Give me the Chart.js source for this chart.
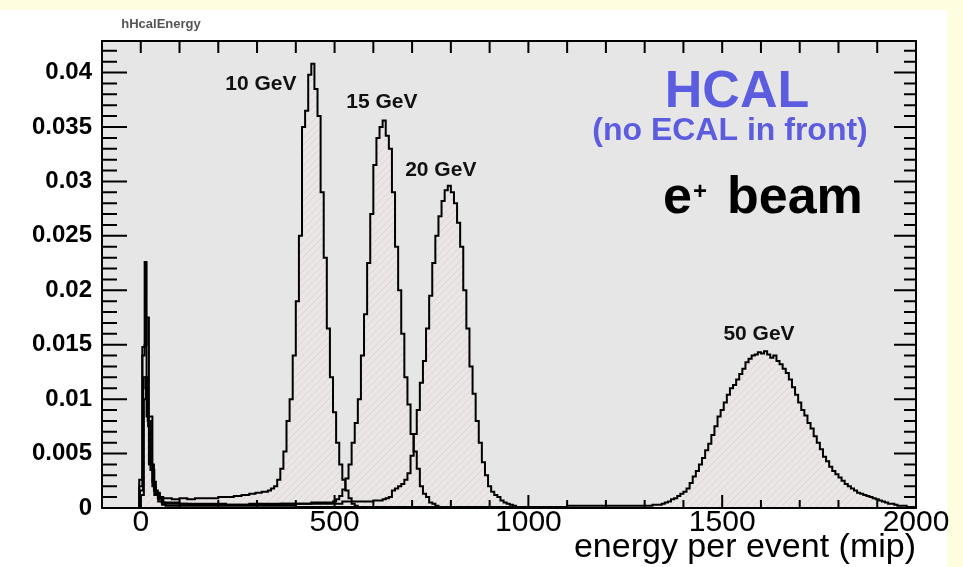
<!DOCTYPE html>
<html><head><meta charset="utf-8">
<script src="https://cdn.jsdelivr.net/npm/chart.js@4/dist/chart.umd.min.js"></script>
<style>
html,body{margin:0;padding:0;background:#fffde0;overflow:hidden;}
#white{position:absolute;left:0;top:10px;width:947px;height:557px;background:#ffffff;}
#c{position:absolute;left:0;top:0;}
</style></head><body>
<div id="white"></div>
<canvas id="c" width="963" height="567"></canvas>
<script>
// ---------------- data ----------------
const seriesNames = ['10 GeV', '15 GeV', '20 GeV', '50 GeV'];

// bin low edges (mip) and contents; last bin ends at hiXX
const lo10 = [-4,4,10,15,21,30,39,49,58,80,100,120,140,160,180,200,220,240,260,280,296,312,328,
  336,344,352,360,368,376,384,392,400,408,416,424,432,440,448,456,464,472,480,488,496,504,512,520,528,536,544,552,560];
const val10 = [0.0026,0.0148,0.0226,0.0084,0.0040,0.0020,0.0013,0.0010,0.0009,0.0008,0.0009,0.0008,0.0009,0.0009,0.0009,0.0010,0.0010,0.0011,0.0012,0.0013,0.0014,0.0015,0.0016,
  0.0018,0.0020,0.0026,0.0036,0.0052,0.0080,0.0100,0.0140,0.0190,0.0250,0.0350,0.0365,0.0398,0.0408,0.0385,0.0360,0.0290,0.0230,0.0165,0.0120,0.0088,0.0060,0.0040,0.0026,0.0016,0.0009,0.0004,0.0002,0.0001];
const hi10 = 568;

const lo15 = [-4,4,10,15,21,30,39,49,58,100,160,220,280,340,400,440,480,496,504,512,520,
  528,536,544,552,560,568,576,584,592,600,608,616,624,632,640,648,656,664,672,680,688,696,704,712,720,728,736,744,752,760,768];
const val15 = [0.0020,0.0140,0.0150,0.0175,0.0084,0.0024,0.0014,0.0008,0.0005,0.0004,0.0004,0.0003,0.0004,0.0004,0.0004,0.0005,0.0005,0.0006,0.0008,0.0011,0.0017,
  0.0027,0.0040,0.0060,0.0078,0.0100,0.0140,0.0178,0.0225,0.0270,0.0315,0.0340,0.0350,0.0356,0.0342,0.0330,0.0290,0.0240,0.0200,0.0160,0.0120,0.0095,0.0068,0.0052,0.0036,0.0020,0.0013,0.0010,0.0005,0.0004,0.0002,0.0001];
const hi15 = 776;

const lo20 = [-2,6,12,18,26,34,44,54,62,120,200,280,360,440,520,560,600,624,632,
  640,648,656,664,672,680,688,696,704,712,720,728,736,744,752,760,768,776,784,792,
  800,808,816,824,832,840,848,856,864,872,880,888,896,904,912,920,928,936,944,952,960,968,976];
const val20 = [0.0016,0.0120,0.0110,0.0080,0.0040,0.0016,0.0009,0.0005,0.0004,0.0003,0.0003,0.0003,0.0004,0.0004,0.0006,0.0006,0.0007,0.0008,0.0009,
  0.0010,0.0016,0.0018,0.0020,0.0022,0.0026,0.0032,0.0048,0.0068,0.0090,0.0115,0.0135,0.0165,0.0195,0.0225,0.0250,0.0268,0.0282,0.0292,0.0296,
  0.0290,0.0280,0.0262,0.0240,0.0200,0.0165,0.0130,0.0105,0.0080,0.0060,0.0042,0.0030,0.0020,0.0015,0.0012,0.0010,0.0007,0.0005,0.0004,0.0003,0.0002,0.0001,0.0001];
const hi20 = 984;

const lo50 = [0,8,13,19,25,35,45,55,64,200,400,600,800,1000,1100,1200,1280,1320,
  1336,1344,1352,1360,1368,1376,1384,1392,1400,1408,1416,1424,1432,1440,1448,1456,1464,1472,1480,1488,
  1496,1504,1512,1520,1528,1536,1544,1552,1560,1568,1576,1584,1592,1600,1608,1616,1624,1632,1640,1648,
  1656,1664,1672,1680,1688,1696,1704,1712,1720,1728,1736,1744,1752,1760,1768,1776,1784,1792,1800,1808,
  1816,1824,1832,1840,1848,1856,1864,1872,1880,1888,1896,1904,1912,1920,1928,1936,1944,1952,1960,1976,1992];
const val50 = [0.0012,0.0100,0.0120,0.0075,0.0035,0.0012,0.0006,0.0003,0.0002,0.0002,0.0001,0.0001,0.0001,0.0001,0.0002,0.0002,0.0002,0.0003,
  0.0003,0.0004,0.0005,0.0006,0.0008,0.0009,0.0011,0.0013,0.0015,0.0018,0.0023,0.0029,0.0034,0.0040,0.0046,0.0053,0.0059,0.0067,0.0075,0.0084,
  0.0090,0.0097,0.0104,0.0110,0.0113,0.0118,0.0123,0.0128,0.0134,0.0137,0.0140,0.0141,0.0143,0.0142,0.0144,0.0141,0.0138,0.0140,0.0135,0.0132,
  0.0128,0.0124,0.0118,0.0111,0.0104,0.0097,0.0090,0.0085,0.0078,0.0073,0.0066,0.0060,0.0054,0.0047,0.0043,0.0038,0.0034,0.0031,0.0028,0.0025,
  0.0022,0.0020,0.0018,0.0016,0.0014,0.0013,0.0012,0.0011,0.0010,0.0009,0.0008,0.0007,0.0006,0.0005,0.0004,0.0004,0.0003,0.0002,0.0002,0.0001,0.0001];
const hi50 = 2000;

// axis ranges and ticks
const xRange = [-100, 2000];
const yRange = [0, 0.0429];
const xMinorStep = 100, xMajorStep = 500;
const yMinorStep = 0.001, yMajorStep = 0.005;

// peak labels, anchored in data units
const peakLabelX = [310, 622, 774, 1595];
const peakLabelY = [0.0389, 0.03725, 0.0310, 0.0160];

const histTitle = 'hHcalEnergy';
const xTitle = 'energy per event (mip)';

// ---------------- chart ----------------
const canvas = document.getElementById('c');
const ctx0 = canvas.getContext('2d');

function hatch() {
  const c = document.createElement('canvas'); c.width = 7; c.height = 7;
  const g = c.getContext('2d');
  g.fillStyle = '#e9e6e6'; g.fillRect(0, 0, 7, 7);
  g.strokeStyle = 'rgba(220,170,170,0.32)'; g.lineWidth = 1;
  g.beginPath();
  g.moveTo(0, 7); g.lineTo(7, 0);
  g.moveTo(-1, 1); g.lineTo(1, -1);
  g.moveTo(6, 8); g.lineTo(8, 6);
  g.stroke();
  return ctx0.createPattern(c, 'repeat');
}
const pattern = hatch();

function histPoints(lo, val, hi) {
  const pts = [{x: lo[0], y: 0}];
  lo.forEach((x, i) => pts.push({x: x, y: val[i]}));
  pts.push({x: hi, y: 0});
  return pts;
}
const los = [lo10, lo15, lo20, lo50], vals = [val10, val15, val20, val50], his = [hi10, hi15, hi20, hi50];

const datasets = seriesNames.map((n, i) => ({
  label: n,
  data: histPoints(los[i], vals[i], his[i]),
  stepped: true,
  borderColor: '#000',
  borderWidth: 2,
  pointRadius: 0,
  fill: 'origin',
  backgroundColor: pattern,
  tension: 0
}));

const SANS = '"Liberation Sans", Arial, Helvetica, sans-serif';

const decor = {
  id: 'decor',
  beforeDraw(chart) {
    const {ctx, chartArea: a} = chart;
    ctx.save();
    ctx.fillStyle = '#e6e6e6';
    ctx.fillRect(a.left, a.top, a.right - a.left, a.bottom - a.top);
    ctx.restore();
  },
  afterDatasetsDraw(chart) {
    const {ctx, chartArea: a, scales: {x, y}} = chart;
    ctx.save();
    ctx.strokeStyle = '#000';
    ctx.lineWidth = 2;
    ctx.beginPath();
    const nx = Math.round((xRange[1] - xRange[0]) / xMinorStep);
    for (let k = 0; k <= nx; k++) {
      const v = xRange[0] + k * xMinorStep;
      const px = x.getPixelForValue(v);
      const major = Math.abs(v % xMajorStep) < 1e-6;
      ctx.moveTo(px, a.bottom); ctx.lineTo(px, a.bottom - (major ? 13 : 8));
      ctx.moveTo(px, a.top); ctx.lineTo(px, a.top + 12);
    }
    const ny = Math.floor(yRange[1] / yMinorStep + 1e-6);
    for (let k = 0; k <= ny; k++) {
      const v = yRange[0] + k * yMinorStep;
      const py = y.getPixelForValue(v);
      const major = k % Math.round(yMajorStep / yMinorStep) === 0;
      ctx.moveTo(a.left, py); ctx.lineTo(a.left + (major ? 25 : 15), py);
      ctx.moveTo(a.right, py); ctx.lineTo(a.right - (major ? 22 : 12), py);
    }
    ctx.stroke();
    ctx.strokeRect(a.left, a.top, a.right - a.left, a.bottom - a.top);
    ctx.restore();
  },
  afterDraw(chart) {
    const {ctx, scales: {x, y}} = chart;
    ctx.save();
    // histogram name
    ctx.fillStyle = '#555';
    ctx.font = 'bold 13px ' + SANS;
    ctx.textAlign = 'center'; ctx.textBaseline = 'middle';
    ctx.fillText(histTitle, 161, 24);
    // peak labels
    ctx.fillStyle = '#111';
    ctx.font = 'bold 21px ' + SANS;
    seriesNames.forEach((n, i) => {
      ctx.fillText(n, x.getPixelForValue(peakLabelX[i]), y.getPixelForValue(peakLabelY[i]));
    });
    // HCAL box text
    ctx.textBaseline = 'alphabetic';
    ctx.fillStyle = '#5c5ce0';
    ctx.font = 'bold 52px ' + SANS;
    ctx.fillText('HCAL', 737, 107);
    ctx.font = 'bold 32px ' + SANS;
    ctx.fillText('(no ECAL in front)', 730, 140);
    ctx.fillStyle = '#000';
    ctx.textAlign = 'left';
    ctx.font = 'bold 52px ' + SANS;
    ctx.fillText('e', 663, 213);
    ctx.font = 'bold 24px ' + SANS;
    ctx.fillText('+', 693, 199);
    ctx.font = 'bold 52px ' + SANS;
    ctx.fillText('beam', 727, 213);
    ctx.restore();
  }
};

new Chart(canvas, {
  type: 'line',
  data: {datasets},
  options: {
    responsive: false,
    animation: false,
    events: [],
    layout: {padding: {left: 0, top: 41, right: 47, bottom: 0}},
    plugins: {
      legend: {display: false},
      tooltip: {enabled: false},
      filler: {drawTime: 'beforeDatasetsDraw'}
    },
    scales: {
      x: {
        type: 'linear', min: xRange[0], max: xRange[1],
        grid: {display: false, drawTicks: false},
        border: {display: false},
        afterFit: s => { s.height = 59; },
        ticks: {
          stepSize: xMinorStep, autoSkip: false, maxRotation: 0, padding: 0,
          color: '#000',
          font: {family: SANS, size: 30, lineHeight: 1},
          callback: v => (Math.abs(v % xMajorStep) < 1e-6 && v >= 0) ? String(v) : ''
        },
        title: {
          display: true, text: xTitle, align: 'end', color: '#000',
          font: {family: SANS, size: 34, lineHeight: 1},
          padding: {top: 0, bottom: 2}
        }
      },
      y: {
        type: 'linear', min: yRange[0], max: yRange[1],
        grid: {display: false, drawTicks: false},
        border: {display: false},
        afterFit: s => { s.width = 102; },
        ticks: {
          stepSize: yMajorStep, includeBounds: false, padding: 10,
          color: '#000',
          font: {family: SANS, size: 24, weight: 'bold'},
          callback: v => (Math.abs(v) < 1e-9 ? '0' : String(+v.toFixed(3)))
        }
      }
    }
  },
  plugins: [decor]
});
</script>
</body></html>
